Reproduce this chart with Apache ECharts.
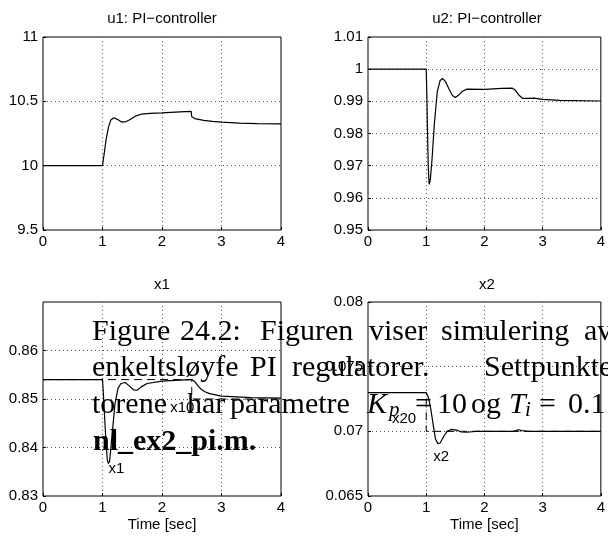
<!DOCTYPE html>
<html><head><meta charset="utf-8">
<script src="https://cdn.jsdelivr.net/npm/echarts/dist/echarts.min.js"></script>
<style>html,body{margin:0;padding:0;background:#fff}#c{width:608px;height:538px}</style>
</head><body><div id="c"></div><script>
// ---- data ----
const titles = ['u1: PI\u2212controller', 'u2: PI\u2212controller', 'x1', 'x2'];
const timeTicks = [0, 1, 2, 3, 4];
const u1Ticks = [9.5, 10, 10.5, 11];
const u2Ticks = [0.95, 0.96, 0.97, 0.98, 0.99, 1, 1.01];
const x1Ticks = [0.83, 0.84, 0.85, 0.86, 0.87];
const x2Ticks = [0.065, 0.07, 0.075, 0.08];

const t_u1 = [0, 1.0, 1.03, 1.06, 1.1, 1.14, 1.19, 1.25, 1.32, 1.38, 1.45, 1.55, 1.65, 1.8, 2.0, 2.3, 2.49, 2.5, 2.55, 2.7, 2.85, 3.0, 3.3, 3.6, 4.0];
const u1 = [10, 10, 10.1, 10.2, 10.3, 10.355, 10.372, 10.36, 10.34, 10.34, 10.355, 10.385, 10.4, 10.406, 10.41, 10.418, 10.422, 10.38, 10.366, 10.352, 10.344, 10.338, 10.33, 10.327, 10.325];

const t_u2 = [0, 1.0, 1.01, 1.02, 1.035, 1.05, 1.07, 1.1, 1.14, 1.19, 1.24, 1.28, 1.33, 1.4, 1.45, 1.5, 1.56, 1.63, 1.7, 2.0, 2.3, 2.48, 2.53, 2.6, 2.66, 2.75, 2.85, 3.0, 3.3, 4.0];
const u2 = [1, 1, 0.993, 0.983, 0.970, 0.9642, 0.9655, 0.972, 0.983, 0.993, 0.9965, 0.9971, 0.9962, 0.9935, 0.9918, 0.9912, 0.992, 0.9932, 0.9938, 0.9937, 0.994, 0.9941, 0.9935, 0.9918, 0.9909, 0.9909, 0.991, 0.9906, 0.9903, 0.9901];

const t_x1 = [0, 1.0, 1.02, 1.05, 1.08, 1.1, 1.12, 1.16, 1.21, 1.26, 1.31, 1.38, 1.45, 1.52, 1.58, 1.65, 1.75, 2.0, 2.3, 2.5, 2.55, 2.6, 2.65, 2.72, 2.8, 3.0, 3.5, 4.0];
const x1 = [0.854, 0.854, 0.850, 0.843, 0.8375, 0.8367, 0.8372, 0.8425, 0.849, 0.8522, 0.8532, 0.8534, 0.8527, 0.8519, 0.8518, 0.8525, 0.8532, 0.8537, 0.8539, 0.854, 0.8536, 0.8528, 0.8521, 0.8515, 0.8511, 0.8506, 0.8503, 0.8502];

const t_x2 = [0, 1.0, 1.04, 1.08, 1.12, 1.16, 1.2, 1.24, 1.3, 1.36, 1.44, 1.52, 1.6, 1.7, 1.85, 2.5, 2.58, 2.65, 2.75, 4.0];
const x2 = [0.073, 0.073, 0.0726, 0.0717, 0.0705, 0.0694, 0.06905, 0.0691, 0.0696, 0.07, 0.07015, 0.0701, 0.06995, 0.06993, 0.07, 0.07, 0.07012, 0.07005, 0.07, 0.07];

const t_x10 = [0, 2.5, 2.5, 4];
const x10 = [0.854, 0.854, 0.85, 0.85];
const t_x20 = [0, 1, 1, 4];
const x20 = [0.073, 0.073, 0.07, 0.07];

// annotation labels [name, t, value]
const x1Labels = [['x1', 1.235, 0.8355], ['x10', 2.34, 0.8481]];
const x2Labels = [['x2', 1.258, 0.06806], ['x20', 0.62, 0.07093]];

// caption (text overlapping the figure)
const captionLines = [
  [['Figure', 92], ['24.2:', 180], ['Figuren', 260], ['viser', 369], ['simulering', 441], ['av', 584]],
  [['enkeltsl\u00f8yfe', 92], ['PI', 250], ['regulatorer.', 292], ['Settpunkter', 484]],
  [['torene', 92], ['har', 187], ['parametre', 230]],
  []
];
const captionBaselines = [341, 377, 414, 451];

// ---- chart ----
const SANS = 'Liberation Sans, Arial, Helvetica, sans-serif';
const SERIF = 'Liberation Serif, Times New Roman, serif';
const pairs = (ts, vs) => ts.map((t, i) => [t, vs[i]]);
const fmt = v => String(+v.toFixed(4));

const gridBoxes = [
  {left: 43, top: 37, width: 238, height: 193},
  {left: 368, top: 37, width: 238, height: 193},
  {left: 43, top: 302, width: 238, height: 194},
  {left: 368, top: 302, width: 238, height: 194}
];
const yTicks = [u1Ticks, u2Ticks, x1Ticks, x2Ticks];

const grid = gridBoxes.map(g => Object.assign({show: true, borderColor: '#000', borderWidth: 1, backgroundColor: 'transparent', containLabel: false}, g));

const gridLine = {show: true, showMinLine: false, showMaxLine: false, lineStyle: {color: '#555', type: [1, 3], width: 1}};

const xAxis = gridBoxes.map((g, i) => ({
  type: 'value', gridIndex: i, min: timeTicks[0], max: timeTicks[timeTicks.length - 1], interval: timeTicks[1] - timeTicks[0],
  axisLine: {show: false}, axisTick: {show: true, inside: true, length: 3, lineStyle: {color: '#000'}},
  axisLabel: {fontFamily: SANS, fontSize: 15, color: '#000', margin: 4, formatter: fmt},
  splitLine: gridLine,
  name: i >= 2 ? 'Time [sec]' : '', nameLocation: 'middle', nameGap: 21,
  nameTextStyle: {fontFamily: SANS, fontSize: 15, color: '#000'}
}));

const yAxis = yTicks.map((tk, i) => ({
  type: 'value', gridIndex: i, min: tk[0], max: tk[tk.length - 1], interval: +(tk[1] - tk[0]).toFixed(6),
  axisLine: {show: false}, axisTick: {show: true, inside: true, length: 3, lineStyle: {color: '#000'}},
  axisLabel: {fontFamily: SANS, fontSize: 15, color: '#000', margin: 5, formatter: fmt, showMaxLabel: i !== 2},
  splitLine: gridLine
}));

const lineS = (i, data, dashed) => ({
  type: 'line', xAxisIndex: i, yAxisIndex: i, data: data, showSymbol: false, symbol: 'none',
  lineStyle: {color: '#000', width: dashed ? 1 : 1.2, type: dashed ? [8, 5] : 'solid'}, silent: true, z: dashed ? 3 : 4
});

const markLabels = labels => ({
  symbol: 'circle', symbolSize: 1, itemStyle: {color: 'rgba(0,0,0,0)'},
  label: {show: true, position: 'inside', fontFamily: SANS, fontSize: 15, color: '#000', formatter: p => p.name},
  data: labels.map(l => ({name: l[0], coord: [l[1], l[2]]}))
});

const s1 = lineS(0, pairs(t_u1, u1));
const s2 = lineS(1, pairs(t_u2, u2));
const s3 = lineS(2, pairs(t_x1, x1)); s3.markPoint = markLabels(x1Labels);
const s3r = lineS(2, pairs(t_x10, x10), true);
const s4 = lineS(3, pairs(t_x2, x2)); s4.markPoint = markLabels(x2Labels);
const s4r = lineS(3, pairs(t_x20, x20), true);

const graphic = [];
const titleY = [19, 19, 285, 285];
gridBoxes.forEach((g, i) => {
  graphic.push({type: 'text', x: g.left + g.width / 2, y: titleY[i], z: 10,
    style: {text: titles[i], font: '15px ' + SANS, fill: '#000', align: 'center', verticalAlign: 'middle'}});
});
const capFont = '30px ' + SERIF;
captionLines.forEach((line, li) => {
  line.forEach(w => {
    graphic.push({type: 'text', x: w[1], y: captionBaselines[li] - 9, z: 20,
      style: {text: w[0], font: capFont, fill: '#000', align: 'left', verticalAlign: 'middle'}});
  });
});
// math part of line 3
const b3 = captionBaselines[2] - 9;
const mathParts = [
  ['K', 367, b3, 'italic 30px ' + SERIF],
  ['p', 389, b3 + 5, 'italic 21px ' + SERIF],
  ['=', 415, b3, capFont],
  ['10', 437, b3, capFont],
  ['og', 471, b3, capFont],
  ['T', 509, b3, 'italic 30px ' + SERIF],
  ['i', 525, b3 + 5, 'italic 21px ' + SERIF],
  ['=', 539, b3, capFont],
  ['0.1', 568, b3, capFont]
];
mathParts.forEach(m => graphic.push({type: 'text', x: m[1], y: m[2], z: 20,
  style: {text: m[0], font: m[3], fill: '#000', align: 'left', verticalAlign: 'middle'}}));
graphic.push({type: 'text', x: 93, y: captionBaselines[3] - 9, z: 20,
  style: {text: 'nl_ex2_pi.m.', font: 'bold 30px ' + SERIF, fill: '#000', align: 'left', verticalAlign: 'middle'}});

const chart = echarts.init(document.getElementById('c'), null, {renderer: 'canvas'});
chart.setOption({
  animation: false,
  backgroundColor: '#fff',
  grid: grid, xAxis: xAxis, yAxis: yAxis,
  series: [s3r, s4r, s1, s2, s3, s4],
  graphic: graphic
});
</script></body></html>
